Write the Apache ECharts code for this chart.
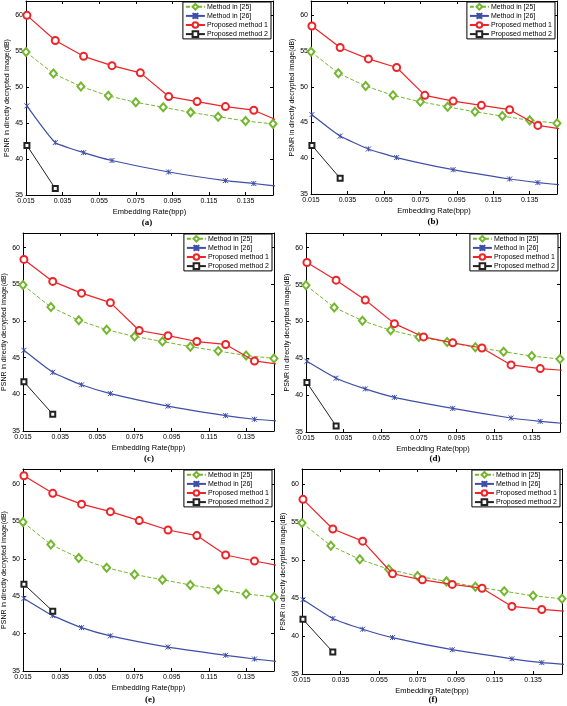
<!DOCTYPE html>
<html>
<head>
<meta charset="utf-8">
<script src="https://cdn.jsdelivr.net/npm/echarts@6/dist/echarts.min.js"></script>
<style>
html,body{margin:0;padding:0;background:#fff;}
#chart{width:567px;height:706px;}
</style>
</head>
<body>
<div id="chart"></div>
<script>
// ---------- data ----------
const seriesNames = ['Method in [25]', 'Method in [26]', 'Proposed method 1', 'Proposed method 2'];
const panelLabels = ['(a)', '(b)', '(c)', '(d)', '(e)', '(f)'];
const xTitle = 'Embedding Rate(bpp)';
const yTitle = 'PSNR in directly decrypted image(dB)';

const xM25 = [0.015, 0.03, 0.045, 0.06, 0.075, 0.09, 0.105, 0.12, 0.135, 0.15];
const xM26 = [0.0155, 0.031, 0.0465, 0.062, 0.093, 0.124, 0.1395, 0.155];
const xP1  = [0.0155, 0.031, 0.0465, 0.062, 0.0775, 0.093, 0.1085, 0.124, 0.1395, 0.155];
const xP2  = [0.0155, 0.031];

const m25 = [54.9, 51.9, 50.1, 48.8, 47.9, 47.2, 46.5, 45.9, 45.3, 44.9];

const m26_a = [47.4, 42.3, 40.9, 39.8, 38.2, 37.0, 36.6, 36.15];
const m26_b = [46.1, 43.1, 41.3, 40.1, 38.4, 37.1, 36.6, 36.2];
const m26_c = [46.0, 43.0, 41.3, 40.1, 38.4, 37.1, 36.6, 36.3];
const m26_d = [44.6, 42.3, 40.85, 39.7, 38.2, 36.9, 36.45, 36.1];
const m26_e = [44.7, 42.4, 40.8, 39.7, 38.2, 37.1, 36.6, 36.2];
const m26_f = [44.8, 42.3, 40.9, 39.8, 38.2, 37.0, 36.5, 36.2];

const p1_a = [60.0, 56.5, 54.3, 53.0, 52.0, 48.7, 48.0, 47.3, 46.8, 45.1];
const p1_b = [58.5, 55.5, 53.9, 52.7, 48.8, 48.0, 47.4, 46.8, 44.6, 44.0];
const p1_c = [58.4, 55.4, 53.8, 52.5, 48.7, 48.0, 47.2, 46.8, 44.55, 44.0];
const p1_d = [58.0, 55.6, 52.9, 49.7, 47.9, 47.1, 46.4, 44.1, 43.6, 43.3];
const p1_e = [61.1, 58.75, 57.3, 56.3, 55.1, 53.85, 53.1, 50.5, 49.7, 48.95];
const p1_f = [58.0, 54.1, 52.5, 48.2, 47.4, 46.8, 46.3, 43.9, 43.5, 43.2];

const p2_a = [41.9, 35.9];
const p2_b = [41.8, 37.2];
const p2_c = [41.7, 37.3];
const p2_d = [41.7, 35.8];
const p2_e = [46.6, 43.0];
const p2_f = [42.2, 37.9];

const m26Sets = [m26_a, m26_b, m26_c, m26_d, m26_e, m26_f];
const p1Sets = [p1_a, p1_b, p1_c, p1_d, p1_e, p1_f];
const p2Sets = [p2_a, p2_b, p2_c, p2_d, p2_e, p2_f];

// ---------- layout ----------
const W = 567;
const panels = [
  {l: 26,  t: 1,   r: 273, b: 195, lx: 147, ly: 223},
  {l: 311, t: 1,   r: 557, b: 194, lx: 433, ly: 222},
  {l: 23,  t: 233, r: 274, b: 431, lx: 149, ly: 459},
  {l: 306, t: 233, r: 560, b: 432, lx: 435, ly: 459},
  {l: 18,  t: 469, r: 274, b: 671, lx: 150, ly: 700},
  {l: 302, t: 469, r: 562, b: 674, lx: 433, ly: 700}
];

const GREEN = '#74b72e', BLUE = '#3f4fa8', RED = '#ee2428', BLACK = '#222';
const FONT = 'Liberation Sans, Arial, sans-serif';

function zip(xs, ys) { return ys.map((y, i) => [xs[i], y]); }

const grid = [], xAxis = [], yAxis = [], series = [], legend = [], graphic = [];

panels.forEach((p, i) => {
  grid.push({left: p.l, top: p.t, width: p.r - p.l, height: p.b - p.t, show: false});
  const tick = {show: true, inside: true, length: 3, lineStyle: {color: '#000', width: 1}};
  const line = {show: true, onZero: false, lineStyle: {color: '#000', width: 1}};
  xAxis.push({
    type: 'value', gridIndex: i, position: 'bottom', min: 0.015, max: 0.15, interval: 0.02,
    axisLine: line, axisTick: tick, splitLine: {show: false},
    axisLabel: {fontSize: 7, color: '#000', margin: 3, fontFamily: FONT, showMaxLabel: false,
                formatter: v => v.toFixed(3)},
    name: xTitle, nameLocation: 'middle', nameGap: 13,
    nameTextStyle: {fontSize: 7.5, color: '#000', fontFamily: FONT}
  });
  xAxis.push({
    type: 'value', gridIndex: i, position: 'top', min: 0.015, max: 0.15, interval: 0.02,
    axisLine: line, axisTick: tick, splitLine: {show: false}, axisLabel: {show: false}
  });
  yAxis.push({
    type: 'value', gridIndex: i, position: 'left', min: 35, max: 62, interval: 5,
    axisLine: line, axisTick: tick, splitLine: {show: false},
    axisLabel: {fontSize: 7, color: '#000', margin: 3, fontFamily: FONT, showMaxLabel: false},
    name: yTitle, nameLocation: 'middle', nameGap: 15, nameRotate: 90,
    nameTextStyle: {fontSize: 7, color: '#000', fontFamily: FONT}
  });
  yAxis.push({
    type: 'value', gridIndex: i, position: 'right', min: 35, max: 62, interval: 5,
    axisLine: line, axisTick: tick, splitLine: {show: false}, axisLabel: {show: false}
  });

  const xi = 2 * i, yi = 2 * i;
  series.push({
    type: 'line', name: seriesNames[0], xAxisIndex: xi, yAxisIndex: yi,
    data: zip(xM25, m25), symbol: 'emptyDiamond', symbolSize: [7, 8],
    lineStyle: {color: GREEN, width: 1, type: [4, 2]},
    itemStyle: {color: GREEN, borderColor: GREEN, borderWidth: 1}, z: 2
  });
  series.push({
    type: 'line', name: seriesNames[1], xAxisIndex: xi, yAxisIndex: yi,
    data: zip(xM26, m26Sets[i]), smooth: 0.15,
    symbol: 'path://M0,0L8,8M8,0L0,8M4,0L4,8', symbolSize: 5,
    lineStyle: {color: BLUE, width: 1.2},
    itemStyle: {color: BLUE, borderColor: BLUE, borderWidth: 1}, z: 2
  });
  series.push({
    type: 'line', name: seriesNames[2], xAxisIndex: xi, yAxisIndex: yi,
    data: zip(xP1, p1Sets[i]), symbol: 'emptyCircle', symbolSize: 7,
    lineStyle: {color: RED, width: 1.2},
    itemStyle: {color: RED, borderColor: RED, borderWidth: 1}, z: 3
  });
  series.push({
    type: 'line', name: seriesNames[3], xAxisIndex: xi, yAxisIndex: yi,
    data: zip(xP2, p2Sets[i]), symbol: 'emptyRect', symbolSize: 5,
    lineStyle: {color: BLACK, width: 1},
    itemStyle: {color: BLACK, borderColor: BLACK, borderWidth: 1}, z: 3
  });

  legend.push({
    orient: 'vertical', right: W - p.r + 2, top: p.t + 1,
    data: seriesNames, selectedMode: false,
    itemWidth: 19, itemHeight: 7, itemGap: 1.5,
    padding: [1, 3, 1, 2],
    backgroundColor: '#fff', borderColor: '#000', borderWidth: 1,
    textStyle: {fontSize: 7, color: '#000', fontFamily: FONT, padding: [0, 0, 0, -3]}
  });

  graphic.push({
    type: 'text', x: p.lx, y: p.ly,
    style: {text: panelLabels[i], align: 'center', verticalAlign: 'middle',
            font: 'bold 9px "Liberation Serif", "Times New Roman", serif', fill: '#000'}
  });
});

const chart = echarts.init(document.getElementById('chart'), null, {renderer: 'canvas'});
chart.setOption({
  animation: false,
  backgroundColor: '#fff',
  grid, xAxis, yAxis, series, legend, graphic
});
</script>
</body>
</html>
